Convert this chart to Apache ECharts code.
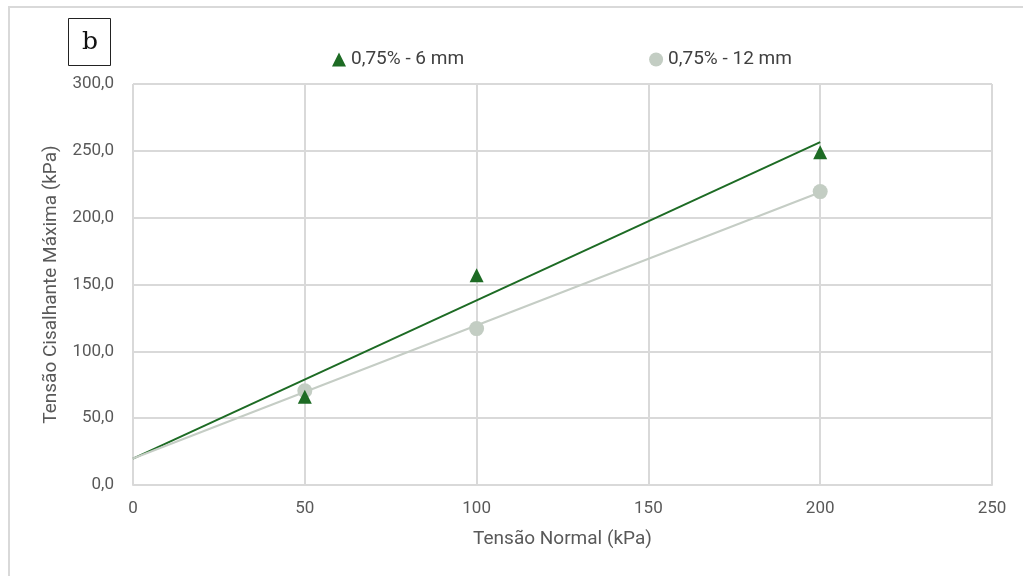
<!DOCTYPE html>
<html>
<head>
<meta charset="utf-8">
<script src="https://cdn.jsdelivr.net/npm/echarts@6/dist/echarts.min.js"></script>
<style>html,body{margin:0;padding:0;background:#fff}#c{width:1023px;height:576px}</style>
</head>
<body>
<div id="c"></div>
<script>
// Data
const xTicks = [0, 50, 100, 150, 200, 250];
const yTicks = [0, 50, 100, 150, 200, 250, 300];
const seriesNames = ['0,75% - 6 mm', '0,75% - 12 mm'];
const normalStress = [50, 100, 200];
const shear6mm = [66, 157, 249];
const shear12mm = [70.5, 117, 219.5];
// Linear trendline endpoints
const trendX = [0, 200];
const trend6mm = [19.8, 256.5];
const trend12mm = [19.8, 219];

const green = '#1d6b24';
const grey = '#c3cdc3';
const greyLine = '#c5cdc5';

const pts = (xs, ys) => xs.map((x, i) => [x, ys[i]]);
const fmt = v => v.toFixed(1).replace('.', ',');
const font = 'Roboto';

const chart = echarts.init(document.getElementById('c'), null, {renderer: 'canvas'});
chart.setOption({
  animation: false,
  backgroundColor: '#fff',
  title: {
    text: 'b', left: 68, top: 18,
    padding: [11, 13, 11, 14],
    borderColor: '#222', borderWidth: 1,
    textStyle: {fontFamily: 'DejaVu Serif', fontWeight: 'normal', fontSize: 25, lineHeight: 26, color: '#111'}
  },
  graphic: [{
    type: 'rect', silent: true, z: -1,
    shape: {x: 9, y: 7, width: 1100, height: 700},
    style: {fill: 'none', stroke: '#d9d9d9', lineWidth: 2}
  }],
  legend: {
    data: [{name: seriesNames[0], icon: 'triangle'}, {name: seriesNames[1], icon: 'circle'}],
    left: 327, top: 45,
    itemWidth: 14, itemHeight: 14, itemGap: 185,
    textStyle: {fontFamily: font, fontSize: 19, color: '#404040'}
  },
  grid: {left: 133, right: 31, top: 84, bottom: 91},
  xAxis: {
    type: 'value', min: xTicks[0], max: xTicks[xTicks.length - 1], interval: 50,
    name: 'Tensão Normal (kPa)', nameLocation: 'middle', nameGap: 45,
    nameTextStyle: {fontFamily: font, fontSize: 19, color: '#595959'},
    axisLine: {show: true, lineStyle: {color: '#d9d9d9', width: 2}},
    axisTick: {show: false},
    axisLabel: {fontFamily: font, fontSize: 17, color: '#595959', margin: 15},
    splitLine: {show: true, lineStyle: {color: '#d9d9d9', width: 2}}
  },
  yAxis: {
    type: 'value', min: yTicks[0], max: yTicks[yTicks.length - 1], interval: 50,
    name: 'Tensão Cisalhante Máxima (kPa)', nameLocation: 'middle', nameGap: 72,
    nameTextStyle: {fontFamily: font, fontSize: 19, color: '#595959'},
    axisLine: {show: false},
    axisTick: {show: false},
    axisLabel: {fontFamily: font, fontSize: 17, color: '#595959', margin: 19, formatter: fmt},
    splitLine: {show: true, lineStyle: {color: '#d9d9d9', width: 2}}
  },
  series: [
    {
      name: seriesNames[0] + ' trend', type: 'line', data: pts(trendX, trend6mm),
      symbol: 'none', lineStyle: {color: green, width: 2}, z: 2, silent: true
    },
    {
      name: seriesNames[1] + ' trend', type: 'line', data: pts(trendX, trend12mm),
      symbol: 'none', lineStyle: {color: greyLine, width: 2}, z: 2, silent: true
    },
    {
      name: seriesNames[1], type: 'scatter', data: pts(normalStress, shear12mm),
      symbol: 'circle', symbolSize: 15, itemStyle: {color: grey, opacity: 1}, z: 3
    },
    {
      name: seriesNames[0], type: 'scatter', data: pts(normalStress, shear6mm),
      symbol: 'triangle', symbolSize: 14, itemStyle: {color: green, opacity: 1}, z: 4
    }
  ]
});
</script>
</body>
</html>
